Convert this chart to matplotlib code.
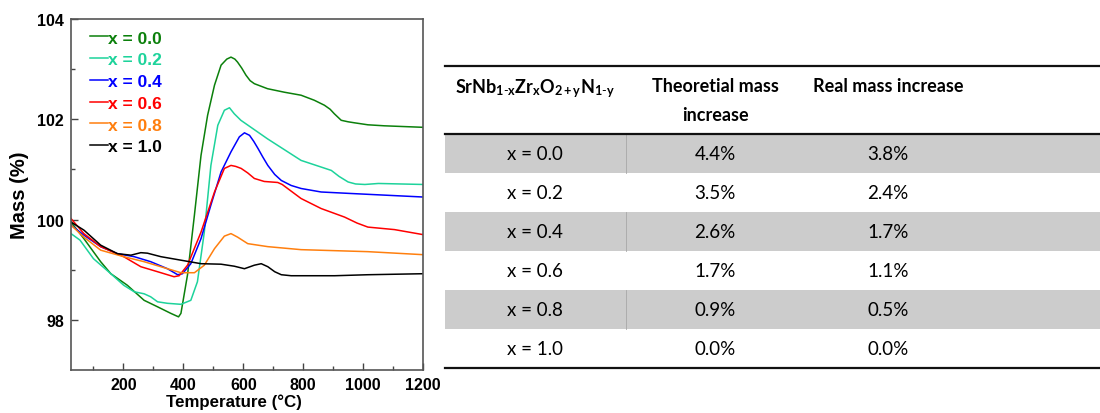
import matplotlib
matplotlib.use("Agg")
import matplotlib.pyplot as plt
from matplotlib.patches import Rectangle

plt.rcParams["font.family"] = ["Liberation Sans", "DejaVu Sans"]
plt.rcParams["mathtext.fontset"] = "custom"
plt.rcParams["mathtext.rm"] = "Lato"
plt.rcParams["mathtext.bf"] = "Lato:bold"
plt.rcParams["mathtext.it"] = "Lato:italic"

# --- TGA curves (temperature in degC, mass in %) ---
labels = ["x = 0.0", "x = 0.2", "x = 0.4", "x = 0.6", "x = 0.8", "x = 1.0"]
colors = ["#0b800b", "#1dd39b", "#0000ff", "#ff0000", "#ff7f0e", "#000000"]

t_00 = [25, 68, 124, 158, 213, 269, 314, 358, 384, 392, 414, 437, 459, 481, 504, 526,
        545, 559, 572, 581, 595, 609, 623, 637, 681, 737, 793, 837, 871, 890, 904, 927,
        950, 971, 1016, 1071, 1200]
m_00 = [99.95, 99.62, 99.16, 98.92, 98.69, 98.39, 98.26, 98.13, 98.06, 98.13, 98.9, 100.09,
        101.28, 102.08, 102.68, 103.08, 103.2, 103.24, 103.2, 103.14, 103.02, 102.88,
        102.77, 102.71, 102.61, 102.54, 102.48, 102.38, 102.28, 102.2, 102.11, 101.98,
        101.95, 101.93, 101.89, 101.87, 101.84]

t_02 = [25, 55, 100, 158, 201, 236, 269, 291, 314, 347, 392, 425, 447, 470, 492, 515,
        537, 554, 570, 592, 681, 793, 894, 920, 950, 975, 1006, 1051, 1200]
m_02 = [99.72, 99.59, 99.22, 98.92, 98.69, 98.56, 98.52, 98.46, 98.36, 98.33, 98.31, 98.39,
        98.76, 99.75, 101.08, 101.88, 102.18, 102.23, 102.11, 101.98, 101.61, 101.18,
        100.98, 100.86, 100.75, 100.71, 100.70, 100.72, 100.70]

t_04 = [25, 68, 124, 180, 236, 291, 347, 381, 397, 425, 459, 492, 526, 559, 587, 604,
        621, 635, 649, 665, 682, 705, 727, 760, 793, 860, 960, 1200]
m_04 = [99.89, 99.69, 99.46, 99.32, 99.26, 99.16, 99.02, 98.90, 98.92, 99.12, 99.62,
        100.29, 100.95, 101.35, 101.65, 101.73, 101.68, 101.56, 101.42, 101.25, 101.08,
        100.9, 100.78, 100.68, 100.62, 100.55, 100.52, 100.45]

t_06 = [25, 68, 124, 201, 258, 314, 369, 386, 414, 459, 504, 537, 559, 575, 593, 615,
        637, 670, 715, 730, 748, 793, 860, 938, 980, 1016, 1105, 1200]
m_06 = [100.02, 99.72, 99.46, 99.26, 99.06, 98.96, 98.86, 98.88, 99.09, 99.75, 100.55,
        101.02, 101.08, 101.06, 101.02, 100.93, 100.82, 100.76, 100.74, 100.7, 100.62,
        100.42, 100.22, 100.05, 99.93, 99.85, 99.80, 99.70]

t_08 = [25, 68, 124, 201, 269, 347, 392, 437, 470, 504, 537, 559, 581, 615, 682, 793,
        905, 1016, 1200]
m_08 = [99.89, 99.65, 99.39, 99.26, 99.16, 99.02, 98.94, 98.94, 99.09, 99.42, 99.67,
        99.72, 99.65, 99.52, 99.46, 99.40, 99.38, 99.36, 99.30]

t_10 = [25, 68, 124, 180, 225, 258, 280, 325, 392, 459, 526, 570, 604, 637, 660, 682,
        705, 727, 760, 793, 905, 1016, 1200]
m_10 = [99.95, 99.79, 99.49, 99.32, 99.29, 99.34, 99.33, 99.26, 99.19, 99.12, 99.11,
        99.07, 99.02, 99.09, 99.12, 99.06, 98.96, 98.90, 98.88, 98.88, 98.88, 98.90, 98.92]

temps = [t_00, t_02, t_04, t_06, t_08, t_10]
masses = [m_00, m_02, m_04, m_06, m_08, m_10]

# --- table contents ---
row_labels = ["x = 0.0", "x = 0.2", "x = 0.4", "x = 0.6", "x = 0.8", "x = 1.0"]
theoretical = ["4.4%", "3.5%", "2.6%", "1.7%", "0.9%", "0.0%"]
real = ["3.8%", "2.4%", "1.7%", "1.1%", "0.5%", "0.0%"]

W, H = 1100, 414
fig = plt.figure(figsize=(W / 100, H / 100), dpi=100)

# ---------------- TGA plot ----------------
ax = fig.add_axes([71 / W, 1 - 371 / H, 352 / W, 351 / H])
for t, m, c, lab in zip(temps, masses, colors, labels):
    ax.plot(t, m, color=c, lw=1.1, label=lab)
ax.set_xlim(25, 1200)
ax.set_ylim(97, 104)
ax.set_xticks([200, 400, 600, 800, 1000, 1200])
ax.set_xticks([100, 300, 500, 700, 900, 1100], minor=True)
ax.set_yticks([98, 100, 102, 104])
ax.set_yticks([99, 101, 103], minor=True)
ax.tick_params(direction="in", which="both", labelsize=11.5, colors="#444444",
               labelcolor="black", width=1)
ax.tick_params(which="major", length=5, pad=5)
ax.tick_params(which="minor", length=3)
for lbl in ax.get_xticklabels() + ax.get_yticklabels():
    lbl.set_fontweight("bold")
for sp in ax.spines.values():
    sp.set_color("#555555")
    sp.set_linewidth(1.2)
ax.set_xlabel("Temperature (°C)", fontsize=12.2, fontweight="bold")
ax.set_ylabel("Mass (%)", fontsize=14.5, fontweight="bold")
ax.xaxis.set_label_coords(0.463, -0.068)
ax.yaxis.set_label_coords(-0.118, 0.5)

leg = ax.legend(loc="upper left", bbox_to_anchor=(0.01, 1.012), frameon=False,
                handlelength=1.05, handletextpad=0.0, labelspacing=0.38,
                prop={"weight": "bold", "size": 12.5})
for txt, c in zip(leg.get_texts(), colors):
    txt.set_color(c)

# ---------------- table ----------------
tx = fig.add_axes([0, 0, 1, 1], zorder=-1)
tx.set_xlim(0, W)
tx.set_ylim(H, 0)
tx.axis("off")

tab_left, tab_right = 445, 1100
top_y, head_y = 67, 135
row_h = 39
col_div = 626
col_x = [535, 715, 888]
tfont = "Lato"

for i in range(len(row_labels)):
    y0 = head_y + i * row_h
    if i % 2 == 0:
        tx.add_patch(Rectangle((tab_left, y0), tab_right - tab_left, row_h,
                               facecolor="#cccccc", edgecolor="none"))
        tx.plot([col_div, col_div], [y0, y0 + row_h], color="#a8a8a8", lw=0.6)
    yc = y0 + row_h / 2
    for x, s in zip(col_x, [row_labels[i], theoretical[i], real[i]]):
        tx.text(x, yc, s, ha="center", va="center", fontsize=13.5, family=tfont)

bottom_y = head_y + len(row_labels) * row_h
for y in [top_y, head_y, bottom_y]:
    tx.plot([tab_left, tab_right], [y, y], color="#111111", lw=1.6)

tx.text(col_x[0], 89,
        r"SrNb$_{\mathbf{1\text{-}x}}$Zr$_{\mathbf{x}}$O$_{\mathbf{2+y}}$N$_{\mathbf{1\text{-}y}}$",
        ha="center", va="center", fontsize=13, fontweight="bold", family=tfont)
tx.text(col_x[1], 87, "Theoretial mass", ha="center", va="center",
        fontsize=13, fontweight="bold", family=tfont)
tx.text(col_x[1], 116, "increase", ha="center", va="center",
        fontsize=13, fontweight="bold", family=tfont)
tx.text(813, 87, "Real mass increase", ha="left", va="center",
        fontsize=13, fontweight="bold", family=tfont)

fig.savefig("out.png", dpi=100)
